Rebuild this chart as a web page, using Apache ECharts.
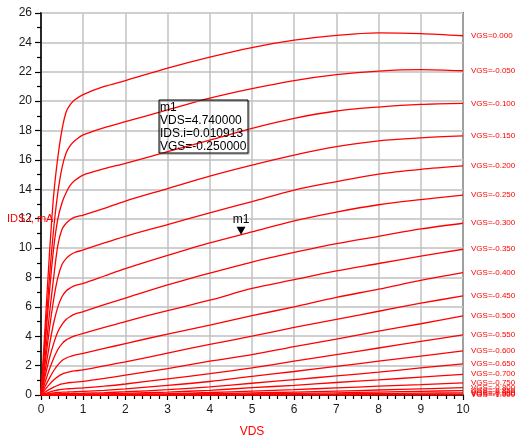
<!DOCTYPE html>
<html>
<head>
<meta charset="utf-8">
<script src="https://cdn.jsdelivr.net/npm/echarts@6/dist/echarts.min.js"></script>
<style>
html,body{margin:0;padding:0;background:#fff;}
#chart{width:517px;height:437px;}
</style>
</head>
<body>
<div id="chart"></div>
<script>
// Sweep variable (VDS, V)
const VDS = [0, 0.1, 0.2, 0.3, 0.4, 0.5, 0.6, 0.7, 0.8, 1, 1.5, 2, 3, 4, 5, 6, 7, 8, 9, 10];

// Trace labels (VGS)
const VGS_LABELS = ['0.000','-0.050','-0.100','-0.150','-0.200','-0.250','-0.300','-0.350','-0.400','-0.450',
  '-0.500','-0.550','-0.600','-0.650','-0.700','-0.750','-0.800','-0.850','-0.900','-0.950','-1.000'];

// IDS (mA) for each VGS trace
const IDS_VGS_0000 = [0, 4.8, 9.6, 13.6, 16.2, 18.1, 19.3, 19.8, 20.1, 20.45, 21.0, 21.4, 22.25, 23.0, 23.65, 24.15, 24.48, 24.65, 24.6, 24.45];
const IDS_VGS_0050 = [0, 4.0, 8.0, 11.3, 13.8, 15.5, 16.5, 17.0, 17.3, 17.7, 18.2, 18.6, 19.4, 20.2, 20.85, 21.4, 21.8, 22.05, 22.15, 22.07];
const IDS_VGS_0100 = [0, 3.5, 7.0, 10.0, 12.0, 13.1, 13.8, 14.3, 14.6, 14.97, 15.4, 15.77, 16.56, 17.35, 18.15, 18.83, 19.33, 19.6, 19.78, 19.85];
const IDS_VGS_0150 = [0, 2.7, 5.5, 8.0, 10.2, 11.3, 11.7, 11.95, 12.1, 12.25, 12.7, 13.2, 14.05, 14.9, 15.65, 16.33, 16.9, 17.3, 17.5, 17.63];
const IDS_VGS_0200 = [0, 2.2, 4.5, 6.5, 8.0, 8.9, 9.3, 9.55, 9.7, 9.87, 10.35, 10.8, 11.6, 12.4, 13.16, 13.95, 14.52, 15.04, 15.36, 15.59];
const IDS_VGS_0250 = [0, 1.7, 3.4, 4.9, 6.0, 6.7, 7.1, 7.3, 7.45, 7.6, 8.1, 8.6, 9.5, 10.35, 11.1, 11.85, 12.45, 12.95, 13.3, 13.61];
const IDS_VGS_0300 = [0, 1.3, 2.5, 3.5, 4.3, 4.8, 5.15, 5.35, 5.5, 5.67, 6.15, 6.6, 7.5, 8.3, 9.05, 9.7, 10.3, 10.8, 11.3, 11.69];
const IDS_VGS_0350 = [0, 0.9, 1.75, 2.5, 3.1, 3.5, 3.75, 3.9, 4.02, 4.2, 4.6, 5.0, 5.75, 6.45, 7.25, 7.85, 8.45, 8.95, 9.45, 9.92];
const IDS_VGS_0400 = [0, 0.6, 1.15, 1.65, 2.05, 2.35, 2.52, 2.63, 2.72, 2.84, 3.17, 3.5, 4.15, 4.75, 5.4, 6.0, 6.65, 7.2, 7.8, 8.33];
const IDS_VGS_0450 = [0, 0.38, 0.72, 1.02, 1.25, 1.42, 1.52, 1.59, 1.64, 1.71, 1.98, 2.25, 2.85, 3.45, 4.0, 4.6, 5.15, 5.7, 6.25, 6.74];
const IDS_VGS_0500 = [0, 0.2, 0.38, 0.54, 0.66, 0.75, 0.81, 0.85, 0.88, 0.93, 1.13, 1.35, 1.8, 2.3, 2.75, 3.3, 3.8, 4.35, 4.85, 5.38];
const IDS_VGS_0550 = [0, 0.1, 0.2, 0.28, 0.34, 0.38, 0.41, 0.43, 0.45, 0.48, 0.6, 0.75, 1.1, 1.45, 1.85, 2.3, 2.75, 3.2, 3.65, 4.09];
const IDS_VGS_0600 = [0, 0.05, 0.1, 0.14, 0.17, 0.19, 0.2, 0.21, 0.22, 0.24, 0.32, 0.42, 0.65, 0.92, 1.27, 1.6, 1.95, 2.3, 2.65, 3.0];
const IDS_VGS_0650 = [0, 0.025, 0.05, 0.07, 0.08, 0.09, 0.1, 0.1, 0.11, 0.12, 0.16, 0.22, 0.36, 0.55, 0.8, 1.05, 1.3, 1.55, 1.85, 2.12];
const IDS_VGS_0700 = [0, 0.01, 0.02, 0.03, 0.04, 0.04, 0.05, 0.05, 0.05, 0.06, 0.08, 0.11, 0.2, 0.32, 0.5, 0.66, 0.85, 1.03, 1.22, 1.41];
const IDS_VGS_0750 = [0, 0.005, 0.01, 0.015, 0.02, 0.02, 0.02, 0.025, 0.025, 0.03, 0.04, 0.05, 0.1, 0.17, 0.27, 0.37, 0.48, 0.6, 0.7, 0.82];
const IDS_VGS_0800 = [0, 0, 0.005, 0.005, 0.01, 0.01, 0.01, 0.01, 0.01, 0.015, 0.02, 0.03, 0.05, 0.09, 0.14, 0.2, 0.27, 0.34, 0.42, 0.5];
const IDS_VGS_0850 = [0, 0, 0, 0, 0, 0.005, 0.005, 0.005, 0.005, 0.01, 0.01, 0.015, 0.03, 0.05, 0.08, 0.11, 0.15, 0.2, 0.25, 0.3];
const IDS_VGS_0900 = [0, 0, 0, 0, 0, 0, 0, 0, 0, 0.005, 0.005, 0.01, 0.015, 0.025, 0.04, 0.055, 0.075, 0.1, 0.125, 0.15];
const IDS_VGS_0950 = [0, 0, 0, 0, 0, 0, 0, 0, 0, 0, 0, 0.005, 0.005, 0.01, 0.015, 0.02, 0.03, 0.04, 0.05, 0.06];
const IDS_VGS_1000 = [0, 0, 0, 0, 0, 0, 0, 0, 0, 0, 0, 0, 0, 0.002, 0.004, 0.006, 0.008, 0.012, 0.016, 0.02];

const IDS_TRACES = [IDS_VGS_0000, IDS_VGS_0050, IDS_VGS_0100, IDS_VGS_0150, IDS_VGS_0200, IDS_VGS_0250,
  IDS_VGS_0300, IDS_VGS_0350, IDS_VGS_0400, IDS_VGS_0450, IDS_VGS_0500, IDS_VGS_0550, IDS_VGS_0600,
  IDS_VGS_0650, IDS_VGS_0700, IDS_VGS_0750, IDS_VGS_0800, IDS_VGS_0850, IDS_VGS_0900, IDS_VGS_0950, IDS_VGS_1000];

// Axis ticks
const X_TICKS = [0, 1, 2, 3, 4, 5, 6, 7, 8, 9, 10];
const Y_TICKS = [0, 2, 4, 6, 8, 10, 12, 14, 16, 18, 20, 22, 24, 26];

// Marker m1
const M1_NAME = 'm1';
const M1_VDS = 4.74;
const M1_IDS_A = 0.010913;
const M1_VGS = -0.25;
const M1_TRACE = 5;

const FONT = '"Liberation Sans", Arial, sans-serif';
const RED = '#ff0000';

const series = IDS_TRACES.map((ids, i) => {
  const s = {
    type: 'line',
    name: 'VGS=' + VGS_LABELS[i],
    data: VDS.map((v, k) => [v, ids[k]]),
    showSymbol: false,
    smooth: 0.3,
    lineStyle: { color: RED, width: 1.3 },
    itemStyle: { color: RED },
    endLabel: {
      show: true,
      formatter: 'VGS=' + VGS_LABELS[i],
      color: RED,
      fontSize: 8,
      fontFamily: FONT,
      distance: 8
    },
    emphasis: { disabled: true },
    z: 3
  };
  if (i === M1_TRACE) {
    s.markPoint = {
      symbol: 'triangle',
      symbolRotate: 180,
      symbolSize: [9, 8],
      symbolOffset: [0, -4],
      itemStyle: { color: '#000' },
      label: { show: true, position: 'top', formatter: M1_NAME, color: '#000', fontSize: 12, fontFamily: FONT, distance: 1 },
      data: [{ coord: [M1_VDS, M1_IDS_A * 1000] }]
    };
  }
  return s;
});

const chart = echarts.init(document.getElementById('chart'), null, { renderer: 'canvas' });
chart.setOption({
  animation: false,
  backgroundColor: '#fff',
  grid: { left: 41, right: 54, top: 13, bottom: 42, outerBoundsMode: 'none', containLabel: false,
          show: true, borderColor: '#000', borderWidth: 1.5, backgroundColor: 'transparent' },
  xAxis: {
    type: 'value',
    min: X_TICKS[0], max: X_TICKS[X_TICKS.length - 1], interval: 1,
    name: 'VDS', nameLocation: 'middle', nameGap: 31,
    nameTextStyle: { color: RED, fontSize: 12, fontFamily: FONT },
    axisLine: { show: true, lineStyle: { color: '#000', width: 1.5 } },
    axisTick: { show: true, length: 5, lineStyle: { color: '#000', width: 1.2 } },
    minorTick: { show: true, splitNumber: 5, length: 4, lineStyle: { color: '#000', width: 1.2 } },
    axisLabel: { color: '#1a1a1a', fontSize: 12, fontFamily: FONT, margin: 9 },
    splitLine: { show: true, lineStyle: { color: '#c2c2c2', width: 1.5 } }
  },
  yAxis: {
    type: 'value',
    min: Y_TICKS[0], max: Y_TICKS[Y_TICKS.length - 1], interval: 2,
    axisLine: { show: true, lineStyle: { color: '#000', width: 1.5 } },
    axisTick: { show: true, length: 6, lineStyle: { color: '#000', width: 1.2 } },
    minorTick: { show: true, splitNumber: 2, length: 4, lineStyle: { color: '#000', width: 1.2 } },
    axisLabel: { color: '#1a1a1a', fontSize: 12, fontFamily: FONT, margin: 9 },
    splitLine: { show: true, lineStyle: { color: '#cfcfcf', width: 2 } }
  },
  graphic: [
    {
      type: 'text', left: 7, top: 213, z: 10,
      style: { text: 'IDS.i, mA', fill: RED, fontSize: 11, fontFamily: FONT }
    },
    {
      type: 'rect', shape: { x: 160, y: 101, width: 89, height: 53 }, z: 9,
      style: { fill: 'none', stroke: '#888', lineWidth: 1 }
    },
    {
      type: 'rect', shape: { x: 159, y: 100, width: 89, height: 53 }, z: 10,
      style: { fill: 'none', stroke: '#000', lineWidth: 1 }
    },
    {
      type: 'text', x: 160, y: 101, z: 10,
      style: {
        text: [M1_NAME,
               'VDS=' + M1_VDS.toFixed(6),
               'IDS.i=' + M1_IDS_A.toFixed(6),
               'VGS=' + M1_VGS.toFixed(6)].join('\n'),
        fill: '#000', fontSize: 12, fontFamily: FONT, lineHeight: 13
      }
    }
  ],
  series: series
});
</script>
</body>
</html>
